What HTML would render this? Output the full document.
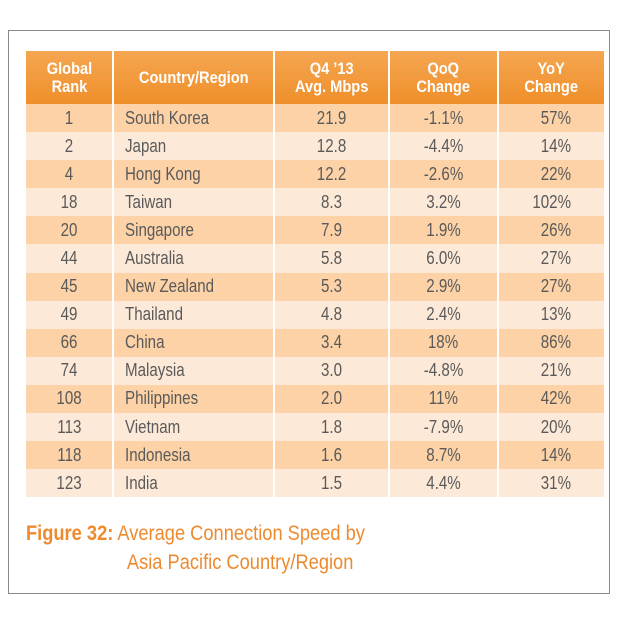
<!DOCTYPE html>
<html><head><meta charset="utf-8"><style>
body{margin:0;width:620px;height:620px;background:#fff;font-family:"Liberation Sans",sans-serif;overflow:hidden}
#frame{position:absolute;left:8px;top:30px;width:602px;height:564px;border:1.5px solid #8a8a8a;box-sizing:border-box}
table{position:absolute;left:26px;top:51px;width:578px;border-collapse:collapse;table-layout:fixed}
th{background:linear-gradient(#f5a651,#ef8f2a);color:#fff;font-weight:bold;font-size:17px;line-height:18px;height:53px;padding:0;border-left:2px solid #fff;border-right:2px solid #fff;text-align:center}
td{font-size:18px;color:#5a5a5a;height:28.1px;padding:0;border-left:2px solid #fff;border-right:2px solid #fff;text-align:center}
td span,th span{display:inline-block;transform:scaleX(0.84)}
th span{transform:scaleX(0.86)}
td.c span{transform-origin:left center}
td.y span{transform-origin:right center}
tr.o td{background:#fcd2a6}
tr.e td{background:#fde9d7}
td.c{text-align:left;padding-left:11px}
td.y{text-align:right;padding-right:33px}
th:first-child,td:first-child{border-left:none}
th:last-child,td:last-child{border-right:none}
#cap{position:absolute;left:26px;top:519px;font-size:21px;color:#ee8a2e;line-height:29px;transform:scaleX(0.87);transform-origin:left top;white-space:nowrap}
#cap b{font-weight:bold}
</style></head><body>
<div id="frame"></div>
<table>
<colgroup><col style="width:87px"><col style="width:161px"><col style="width:115px"><col style="width:109px"><col style="width:106px"></colgroup>
<thead><tr>
<th><span>Global<br>Rank</span></th>
<th><span>Country/Region</span></th>
<th><span>Q4 ’13<br>Avg. Mbps</span></th>
<th><span>QoQ<br>Change</span></th>
<th><span>YoY<br>Change</span></th>
</tr></thead>
<tbody id="tb"></tbody>
</table>
<div id="cap"><b>Figure 32:</b> Average Connection Speed by<br><span style="padding-left:116px">Asia Pacific Country/Region</span></div>
<script>
const ranks=[1,2,4,18,20,44,45,49,66,74,108,113,118,123];
const countries=["South Korea","Japan","Hong Kong","Taiwan","Singapore","Australia","New Zealand","Thailand","China","Malaysia","Philippines","Vietnam","Indonesia","India"];
const speeds=["21.9","12.8","12.2","8.3","7.9","5.8","5.3","4.8","3.4","3.0","2.0","1.8","1.6","1.5"];
const qoq=["-1.1%","-4.4%","-2.6%","3.2%","1.9%","6.0%","2.9%","2.4%","18%","-4.8%","11%","-7.9%","8.7%","4.4%"];
const yoy=["57%","14%","22%","102%","26%","27%","27%","13%","86%","21%","42%","20%","14%","31%"];
const tb=document.getElementById('tb');
for(let i=0;i<ranks.length;i++){
  const tr=document.createElement('tr');
  tr.className=i%2?'e':'o';
  
  
  const vals=[ranks[i],countries[i],speeds[i],qoq[i],yoy[i]];
  const names=['rank-cell','country-cell','speed-cell','qoq-cell','yoy-cell'];
  const cls=['','c','','','y'];
  for(let j=0;j<5;j++){
    const td=document.createElement('td');
    const sp=document.createElement('span');
    sp.textContent=vals[j];
    td.appendChild(sp);
    if(cls[j])td.className=cls[j];
    
    
    tr.appendChild(td);
  }
  tb.appendChild(tr);
}
</script>
</body></html>
